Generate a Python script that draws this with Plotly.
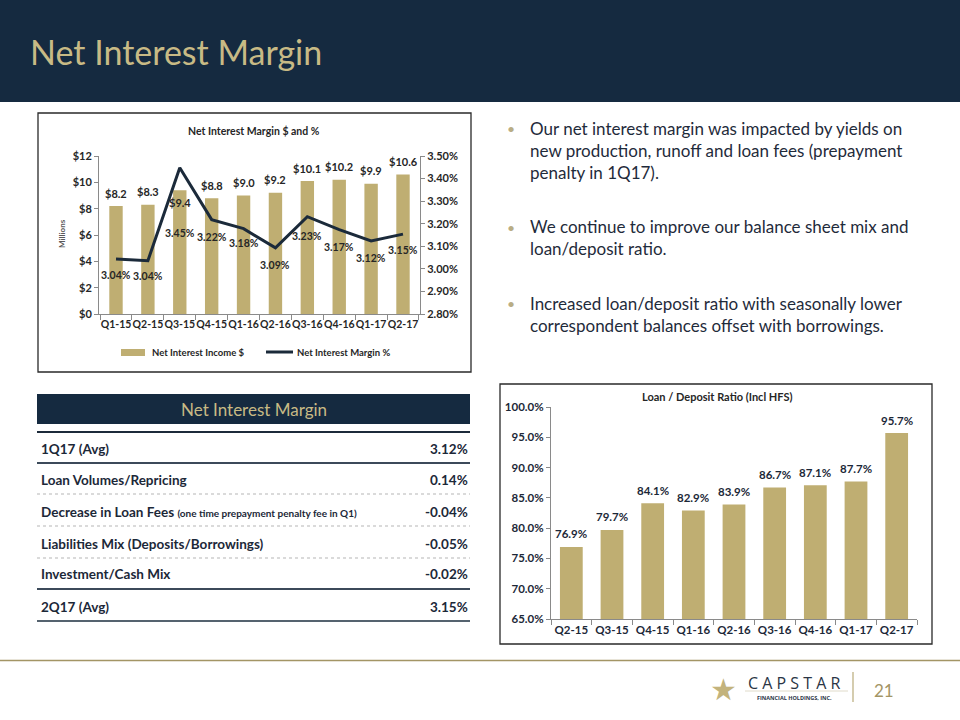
import plotly.graph_objects as go

# ---------------- data ----------------
quarters_top = ["Q1-15", "Q2-15", "Q3-15", "Q4-15", "Q1-16", "Q2-16", "Q3-16", "Q4-16", "Q1-17", "Q2-17"]
net_interest_income = [8.2, 8.3, 9.4, 8.8, 9.0, 9.2, 10.1, 10.2, 9.9, 10.6]   # $ millions
net_interest_margin = [3.044, 3.036, 3.448, 3.218, 3.178, 3.093, 3.231, 3.174, 3.124, 3.154]  # %

quarters_ld = ["Q2-15", "Q3-15", "Q4-15", "Q1-16", "Q2-16", "Q3-16", "Q4-16", "Q1-17", "Q2-17"]
loan_deposit_ratio = [76.9, 79.7, 84.1, 82.9, 83.9, 86.7, 87.1, 87.7, 95.7]  # %

table_labels = ["1Q17 (Avg)", "Loan Volumes/Repricing", "Decrease in Loan Fees",
                "Liabilities Mix (Deposits/Borrowings)", "Investment/Cash Mix", "2Q17 (Avg)"]
table_notes = ["", "", "(one time prepayment penalty fee in Q1)", "", "", ""]
table_values = [3.12, 0.14, -0.04, -0.05, -0.02, 3.15]

bullets = [
    "Our net interest margin was impacted by yields on<br>new production, runoff and loan fees (prepayment<br>penalty in 1Q17).",
    "We continue to improve our balance sheet mix and<br>loan/deposit ratio.",
    "Increased loan/deposit ratio with seasonally lower<br>correspondent balances offset with borrowings.",
]

# ---------------- style ----------------
W, H = 960, 720
NAVY = "#152a40"
GOLD_BAR = "#bfae72"
GOLD_TXT = "#c8ba85"
LINE_C = "#1b2a3a"
TXT = "#1c2838"
AX = "#8a8a8a"
FONT = "Lato"


def px(x):
    return x / W


def py(y):
    return 1 - y / H


fig = go.Figure()

# top chart: bars + line
fig.add_trace(go.Bar(
    x=quarters_top, y=net_interest_income, width=0.42,
    marker=dict(color=GOLD_BAR, line=dict(width=0)),
    name="Net Interest Income $", showlegend=False, xaxis="x", yaxis="y",
))
fig.add_trace(go.Scatter(
    x=quarters_top, y=net_interest_margin, mode="lines",
    line=dict(color=LINE_C, width=3),
    name="Net Interest Margin %", showlegend=False, xaxis="x", yaxis="y2",
))

# bottom chart: loan / deposit
fig.add_trace(go.Bar(
    x=quarters_ld, y=loan_deposit_ratio, width=0.56,
    marker=dict(color=GOLD_BAR, line=dict(width=0)),
    showlegend=False, xaxis="x3", yaxis="y3",
))

tickfont_top = dict(family=FONT, size=11, color="#262626", weight="bold")
tickfont_xtop = dict(family=FONT, size=10.5, color="#262626", weight="bold")
tickfont_bot = dict(family=FONT, size=11.5, color=TXT, weight="bold")

fig.update_layout(
    width=W, height=H, autosize=False,
    margin=dict(l=0, r=0, t=0, b=0, pad=0, autoexpand=False),
    paper_bgcolor="white", plot_bgcolor="rgba(0,0,0,0)",
    font=dict(family=FONT, color=TXT),
    showlegend=False,
    xaxis=dict(domain=[px(99), px(420)], anchor="y", type="category",
               showline=True, linecolor=AX, linewidth=1, tickangle=0,
               ticks="outside", tickson="boundaries", ticklen=5, tickcolor=AX,
               showgrid=False, tickfont=tickfont_xtop, automargin=False),
    yaxis=dict(domain=[py(314), py(156)], anchor="x", range=[0, 12], dtick=2,
               tickprefix="$", showline=True, linecolor=AX, linewidth=1,
               ticks="outside", ticklen=4, tickcolor=AX, showgrid=False,
               zeroline=False, tickfont=tickfont_top, automargin=False),
    yaxis2=dict(overlaying="y", side="right", anchor="x", range=[2.8, 3.5], dtick=0.1,
                tickformat=".2f", ticksuffix="%", showline=True, linecolor=AX, linewidth=1,
                ticks="outside", ticklen=4, tickcolor=AX, showgrid=False,
                zeroline=False, tickfont=tickfont_top, automargin=False),
    xaxis3=dict(domain=[px(551), px(917)], anchor="y3", type="category",
                showline=True, linecolor=AX, linewidth=1, tickangle=0,
                ticks="outside", tickson="boundaries", ticklen=5, tickcolor=AX,
                showgrid=False, tickfont=tickfont_bot, automargin=False),
    yaxis3=dict(domain=[py(619), py(407)], anchor="x3", range=[65, 100], dtick=5,
                tickformat=".1f", ticksuffix="%", showline=True, linecolor=AX, linewidth=1,
                ticks="outside", ticklen=4, tickcolor=AX, showgrid=False,
                zeroline=False, tickfont=tickfont_bot, automargin=False),
)

shapes = []
ann = []


def rect(x0, y0, x1, y1, fill=None, line_color=None, lw=0):
    shapes.append(dict(type="rect", xref="paper", yref="paper",
                       x0=px(x0), x1=px(x1), y0=py(y1), y1=py(y0),
                       fillcolor=fill if fill else "rgba(0,0,0,0)",
                       line=dict(color=line_color if line_color else "rgba(0,0,0,0)", width=lw),
                       layer="below"))


def hline(x0, x1, y, color, width=1, dash="solid"):
    shapes.append(dict(type="line", xref="paper", yref="paper",
                       x0=px(x0), x1=px(x1), y0=py(y), y1=py(y),
                       line=dict(color=color, width=width, dash=dash)))


def text(x, y, s, size, color=TXT, weight="normal", xanchor="center", yanchor="middle",
         align="center", family=FONT, textangle=0):
    ann.append(dict(xref="paper", yref="paper", x=px(x), y=py(y), text=s, showarrow=False,
                    xanchor=xanchor, yanchor=yanchor, align=align, textangle=textangle,
                    font=dict(family=family, size=size, color=color, weight=weight)))


# header band
rect(0, 0, W, 102, fill=NAVY)
text(28, 52, "Net Interest Margin", 34, color=GOLD_TXT, xanchor="left")

# chart frames
rect(38, 113, 471, 372, line_color="#2a2a2a", lw=1.3)
rect(500, 384, 932, 644, line_color="#2a2a2a", lw=1.3)

# top chart title, axis title and legend
text(254, 131, "Net Interest Margin $ and %", 10.5, color="#262626", weight="bold")
text(62, 234, "Millions", 8, color="#595959", weight="bold", textangle=-90)
rect(121, 349, 145, 356, fill=GOLD_BAR)
text(150, 352, "Net Interest Income $", 9.5, color="#262626", weight="bold", xanchor="left")
hline(266, 293, 352, LINE_C, width=3)
text(295, 352, "Net Interest Margin %", 9.5, color="#262626", weight="bold", xanchor="left")

# data labels of the top chart
bar_shift = [13, 13, -12, 13, 13, 13, 13, 13, 13, 13]
line_shift = [-16, -15, -65, -17, -14, -17, -19, -17, -17, -16]
for i, q in enumerate(quarters_top):
    ann.append(dict(xref="x", yref="y", x=q, y=net_interest_income[i],
                    text=f"${net_interest_income[i]:.1f}", showarrow=False, yshift=bar_shift[i],
                    font=dict(family=FONT, size=11, color="#262626", weight="bold")))
    ann.append(dict(xref="x", yref="y2", x=q, y=net_interest_margin[i],
                    text=f"{net_interest_margin[i]:.2f}%", showarrow=False, yshift=line_shift[i],
                    font=dict(family=FONT, size=10.5, color="#262626", weight="bold")))

# bottom chart title and labels
text(717, 396, "Loan / Deposit Ratio (Incl HFS)", 11, color="#262626", weight="bold")
for q, v in zip(quarters_ld, loan_deposit_ratio):
    ann.append(dict(xref="x3", yref="y3", x=q, y=v, text=f"{v:.1f}%", showarrow=False,
                    yshift=13, font=dict(family=FONT, size=11.5, color=TXT, weight="bold")))

# bullets
bullet_y = [150.5, 238, 314.5]
for b, yc in zip(bullets, bullet_y):
    text(528, yc, b, 17, color="#1f2b3b", xanchor="left", align="left")
bullet_dot_y = [128, 227, 303]
for yd in bullet_dot_y:
    text(511, yd, "•", 14, color="#b9ad85")

# table
rect(37, 394, 470, 424, fill=NAVY)
text(254, 409.5, "Net Interest Margin", 17, color=GOLD_TXT)
row_y = [449, 480, 512, 544, 574, 607]
for lab, note, v, yr in zip(table_labels, table_notes, table_values, row_y):
    s = lab if not note else f"{lab} <span style='font-size:10px'>{note}</span>"
    text(39, yr, s, 13.5, color=TXT, weight="bold", xanchor="left", align="left")
    text(470, yr, f"{v:.2f}%", 13.5, color=TXT, weight="bold", xanchor="right", align="right")
hline(37, 470, 432, "#1c2a3a", width=2)
hline(37, 470, 463, "#3c4a5a", width=1.8)
for yl in [494, 526, 558]:
    hline(37, 470, yl, "#b5b5b5", width=1, dash="dot")
hline(37, 470, 589, "#3c4a5a", width=1.8)
hline(37, 470, 621, "#55636f", width=1.8)

# footer
hline(0, W, 660.5, "#a39565", width=1.5)
text(723, 689, "★", 30, color="#c3b37c", family="DejaVu Sans")
text(794, 683, "C A P S T A R", 16, color="#2a3545", family="Open Sans")
hline(745, 848, 691, "#d8d2bd", width=0.8)
text(794, 698, "FINANCIAL HOLDINGS, INC.", 5.5, color="#2a3545", weight="bold", family="Open Sans")
shapes.append(dict(type="line", xref="paper", yref="paper", x0=px(853), x1=px(853),
                   y0=py(702), y1=py(672), line=dict(color="#b9ab7a", width=1.2)))
text(884, 690, "21", 17, color="#a39565")

fig.update_layout(shapes=shapes, annotations=ann)
fig.write_html("out.html", config={"displayModeBar": False},
               post_script="document.body.style.margin='0';document.body.style.overflow='hidden';")
